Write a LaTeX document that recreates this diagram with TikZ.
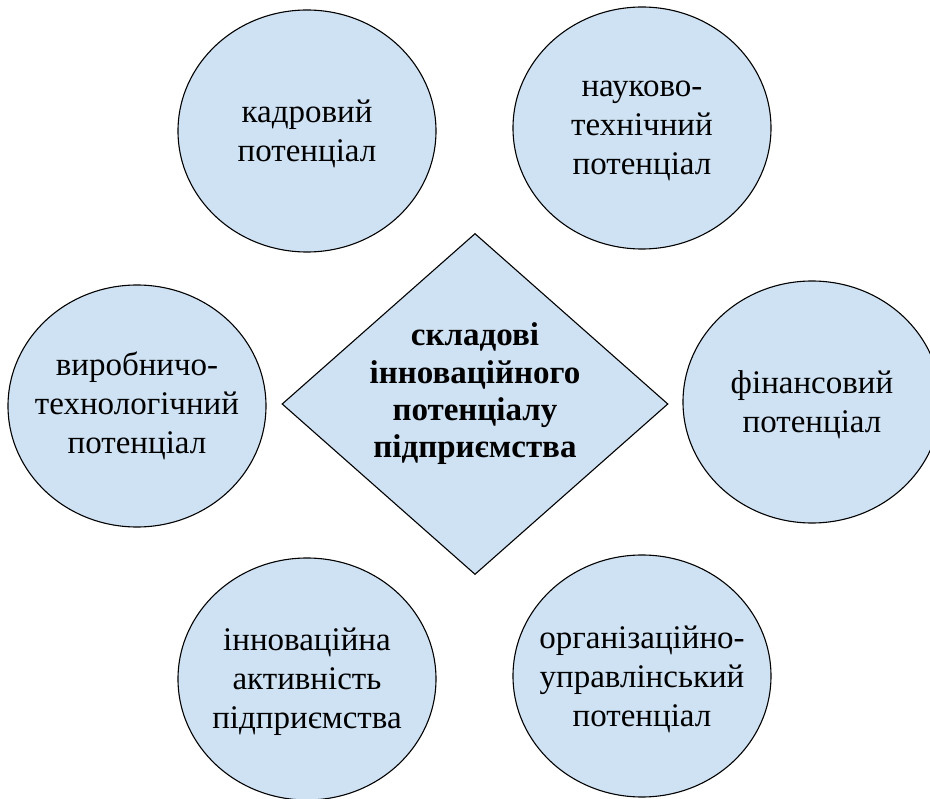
\documentclass[tikz,border=0pt]{standalone}
\usepackage{fontspec}
\setmainfont{Liberation Serif}
\usetikzlibrary{shapes.geometric}
\definecolor{potblue}{HTML}{CFE2F3}

\begin{document}
\begin{tikzpicture}[x=1pt, y=-1pt,
  potcircle/.style={ellipse, draw=black, line width=1.1pt, fill=potblue,
    minimum width=258, minimum height=242, inner sep=0pt},
  potdiamond/.style={diamond, draw=black, line width=1.1pt, fill=potblue,
    minimum width=386, minimum height=341, inner sep=0pt},
  potlabel/.style={align=center, inner sep=0pt, yshift=-3pt,
    font=\fontsize{33}{39}\selectfont},
  potcentre/.style={align=center, inner sep=0pt, yshift=10pt,
    font=\fontsize{33}{37.3}\selectfont\bfseries}]

\useasboundingbox (0,0) rectangle (930,799);

\node [potcircle, label={[potlabel]center:кадровий\\потенціал}] (kadr) at (307,131) {};
\node [potcircle, label={[potlabel]center:науково-\\технічний\\потенціал}] (nauk) at (642,128) {};
\node [potcircle, label={[potlabel, yshift=3pt]center:виробничо-\\технологічний\\потенціал}] (vyrob) at (137,406) {};
\node [potcircle, label={[potlabel]center:фінансовий\\потенціал}] (fin) at (812,402) {};
\node [potcircle, label={[potlabel]center:інноваційна\\активність\\підприємства}] (innov) at (307,679) {};
\node [potcircle, label={[potlabel]center:організаційно-\\управлінський\\потенціал}] (org) at (642,676) {};

% -------- centre -----------
\node [potdiamond, label={[potcentre]center:складові\\інноваційного\\потенціалу\\підприємства}] (sklad) at (475,404) {};

\end{tikzpicture}
\end{document}
